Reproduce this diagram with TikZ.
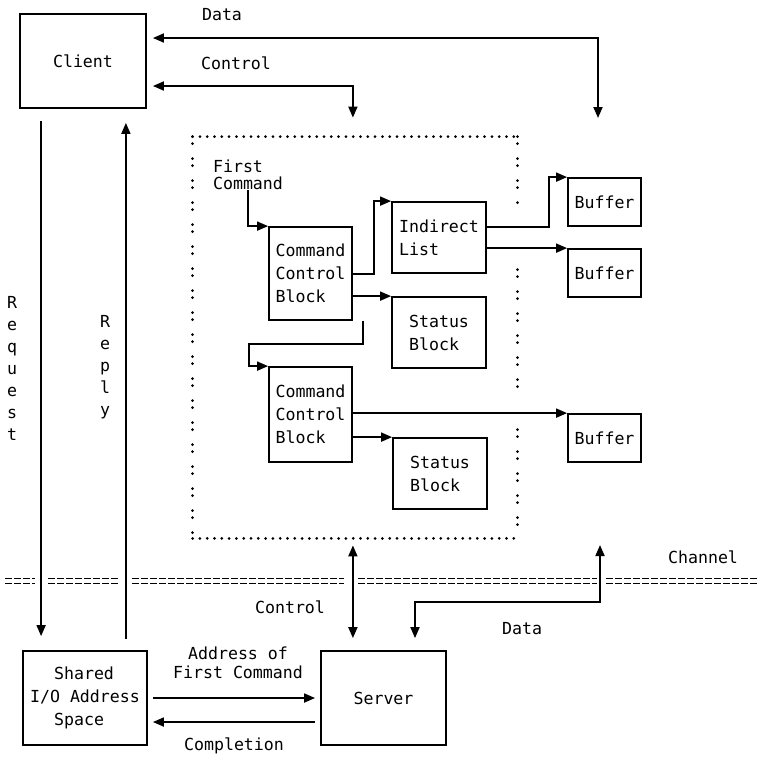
\documentclass[tikz,border=0pt]{standalone}
\usepackage{fontspec}
\usetikzlibrary{arrows.meta}
\newfontfamily\diagmono{DejaVu Sans Mono}
\newcommand{\diagfont}{\diagmono\fontsize{8.3pt}{11.5pt}\selectfont}
\newcommand{\stackfont}{\diagmono\fontsize{8.3pt}{11pt}\selectfont}

\tikzset{
  box/.style={draw, line width=0.9pt, font=\diagfont, align=left, inner sep=0pt},
  tag/.style={font=\diagfont, align=left, inner sep=0pt},
  arr/.style={line width=0.9pt, -{Triangle[length=5.5pt,width=4.5pt]}},
  darr/.style={line width=0.9pt, {Triangle[length=5.5pt,width=4.5pt]}-{Triangle[length=5.5pt,width=4.5pt]}},
  dotrow/.style={line width=1.5pt, line cap=round, dash pattern=on 0pt off 3.65pt},
  dotcol/.style={line width=1.5pt, line cap=round, dash pattern=on 0pt off 3.5pt on 0pt off 7.5pt},
  chan/.style={line width=0.8pt, dash pattern=on 3.5pt off 1pt},
}

\begin{document}
\begin{tikzpicture}[x=0.5pt, y=-0.5pt]
\useasboundingbox (0,0) rectangle (758,757);

% Client
\node[box, minimum width=63pt, minimum height=47pt] (client) at (83,61) {Client};
\node[tag] (datatop) at (222,15) {Data};
\node[tag] (ctltop) at (236,63) {Control};

% Command chain (dotted area)
\node[minimum width=162pt, minimum height=200.5pt, inner sep=0pt] (chain) at (355,337.5) {};
\draw[dotrow] (chain.north west) -- (chain.north east);
\draw[dotrow] (chain.south west) -- (chain.south east);
\draw[dotcol] (chain.north west) -- (chain.south west);
\draw[dotcol] (chain.north east) -- ([yshift=-36.5pt]chain.north east);
\draw[dotcol] ([yshift=-66.5pt]chain.north east) -- ([yshift=-131.5pt]chain.north east);
\draw[dotcol] ([yshift=-146.5pt]chain.north east) -- (chain.south east);

\node[tag] (fcmd) at (248,175) {First\\[-3pt]Command};

\node[box, minimum width=41.5pt, minimum height=46.5pt] (ccbA) at (310.5,273.5) {Command\\Control\\Block};
\node[box, minimum width=41.5pt, minimum height=47.5pt] (ccbB) at (310.5,414.5) {Command\\Control\\Block};
\node[box, minimum width=47pt, minimum height=35.5pt] (ilist) at (439,237.5) {Indirect\\List};
\node[box, minimum width=47pt, minimum height=35.5pt] (statA) at (439,332.5) {Status\\Block};
\node[box, minimum width=47pt, minimum height=35.5pt] (statB) at (440,473.5) {Status\\Block};

% Buffers
\node[box, minimum width=36.5pt, minimum height=24pt] (bufA) at (604.5,202) {Buffer};
\node[box, minimum width=36.5pt, minimum height=24pt] (bufB) at (604.5,273) {Buffer};
\node[box, minimum width=36.5pt, minimum height=24pt] (bufC) at (604.5,438) {Buffer};

% Links inside the chain
\draw[arr] (fcmd.south) |- (ccbA.north west);
\draw[arr] (ccbA.east |- ilist.south) -- ++(10.5pt,0) |- (ilist.north west);
\draw[arr] (ccbA.east |- statA.north) -- (statA.north west);
\draw[arr] ([xshift=5pt]ccbA.south east) -- ++(0,-11.5pt) -- ++(-57pt,0) |- (ccbB.north west);
\draw[arr] ([yshift=5.25pt]ilist.east) -- ++(31pt,0) |- (bufA.north west);
\draw[arr] (ilist.east |- bufB.north) -- (bufB.north west);
\draw[arr] (ccbB.east |- bufC.north) -- (bufC.north west);
\draw[arr] (ccbB.east |- statB.north) -- (statB.north west);

% Client links
\coordinate (dataend) at (598,118);
\draw[darr, shorten <=3pt] ([yshift=11.5pt]client.east) -| (dataend);
\draw[darr, shorten <=3pt, shorten >=9.5pt] ([yshift=-12.5pt]client.east) -| (chain.north -| ccbA.east);

% Channel
\foreach \a/\b in {5/35, 48/119, 132/344, 358/597, 606/758} {
    \draw[chan] (\a,578.5) -- (\b,578.5);
    \draw[chan] (\a,583.5) -- (\b,583.5);
}
\node[tag] (chlabel) at (703,557) {Channel};

% Shared space and server
\node[box, minimum width=62pt, minimum height=47pt] (shared) at (85,698) {\hspace*{12pt}Shared\\I/O Address\\\hspace*{12pt}Space};
\node[box, minimum width=62.5pt, minimum height=47pt] (server) at (383.5,698) {Server};

\coordinate (reqx) at ([xshift=11pt]client.south west);
\coordinate (repx) at ([xshift=-10.5pt]client.south east);
\draw[arr, shorten <=6pt, shorten >=7pt] (reqx) -- (reqx |- shared.north);
\draw[arr, shorten <=5.5pt, shorten >=7pt] (repx |- shared.north) -- (repx);
\node[tag, align=center, font=\stackfont] (req) at (12,368) {R\\e\\q\\u\\e\\s\\t};
\node[tag, align=center, font=\stackfont] (rep) at (105,367) {R\\e\\p\\l\\y};

\draw[darr, shorten <=3.5pt, shorten >=6pt] (ccbA.east |- chain.south) -- (ccbA.east |- server.north);
\node[tag] (ctlbot) at (290,607) {Control};

\coordinate (datx) at ([xshift=15.75pt]server.north);
\coordinate (chdata) at (600,545);
\draw[darr, shorten <=6pt] (datx) -- ++(0,24pt) -| (chdata);
\node[tag] (databot) at (522,629) {Data};

\draw[arr, shorten <=2.5pt, shorten >=2.5pt] (shared.east) -- (server.west);
\draw[arr, shorten <=2.5pt, shorten >=2.5pt] ([yshift=-12pt]server.west) -- ([yshift=-12pt]shared.east);
\node[tag, align=center] (addr) at (238,663) {Address of\\[-2pt]First Command};
\node[tag] (compl) at (234,746) {Completion};

\end{tikzpicture}
\end{document}
